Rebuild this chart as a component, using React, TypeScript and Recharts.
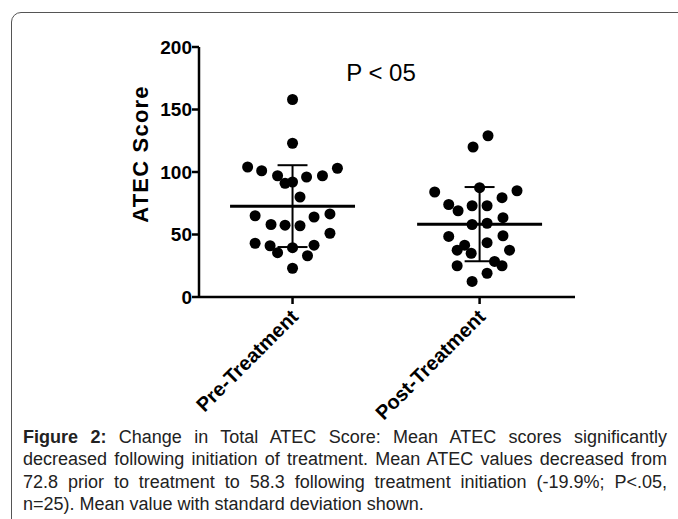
import { ScatterChart, Scatter, XAxis, YAxis, ReferenceLine } from 'recharts';

// ─── Data ────────────────────────────────────────────────────────────────────

const categories = ['Pre-Treatment', 'Post-Treatment'];
const yTicks = [0, 50, 100, 150, 200];

// ATEC score per subject, and the horizontal scatter offset of each dot
const preScores = [
  158, 123, 104, 101, 97, 91, 92, 96, 97, 103, 80, 65, 58, 57.5, 57, 64, 66.5, 51, 43, 41, 35.5,
  39.5, 41.5, 33, 23,
];
const preJitter = [
  0, 0, -0.24, -0.165, -0.08, -0.04, 0, 0.075, 0.16, 0.24, 0.04, -0.2, -0.115, -0.04, 0.04, 0.115,
  0.2, 0.2, -0.2, -0.12, -0.08, 0, 0.115, 0.08, 0,
];
const postScores = [
  129, 120, 84, 87.5, 85, 74, 69, 73, 73, 79.5, 63.5, 58, 59, 48.5, 49, 43.5, 41.5, 37.5, 35, 37.5,
  25, 28.5, 25, 19, 12.5,
];
const postJitter = [
  0.045, -0.035, -0.24, 0, 0.2, -0.165, -0.115, -0.04, 0.04, 0.12, 0.125, -0.04, 0.04, -0.165,
  0.125, 0.04, -0.08, -0.12, -0.045, 0.16, -0.12, 0.08, 0.12, 0.04, -0.04,
];

const pValueLabel = 'P < 05';
const yAxisTitle = 'ATEC Score';
const captionLead = 'Figure 2:';
const captionBody =
  ' Change in Total ATEC Score: Mean ATEC scores significantly decreased following initiation of treatment. Mean ATEC values decreased from 72.8 prior to treatment to 58.3 following treatment initiation (-19.9%; P<.05, n=25). Mean value with standard deviation shown.';

// ─── Helpers ─────────────────────────────────────────────────────────────────

const FONT = "'Liberation Sans', Arial, Helvetica, sans-serif";

function meanSd(values: number[]) {
  const mean = values.reduce((a, b) => a + b, 0) / values.length;
  const variance = values.reduce((a, v) => a + (v - mean) ** 2, 0) / (values.length - 1);
  return { mean, sd: Math.sqrt(variance) };
}

const groups = [
  { center: 0.5, scores: preScores, jitter: preJitter },
  { center: 1.5, scores: postScores, jitter: postJitter },
].map((g) => ({
  ...g,
  points: g.scores.map((y, i) => ({ x: g.center + g.jitter[i], y })),
  ...meanSd(g.scores),
}));

function Dot(props: { cx?: number; cy?: number }) {
  return <circle cx={props.cx} cy={props.cy} r={5.5} fill="#000" />;
}

function CategoryTick(props: { x?: number; y?: number; payload?: { value: number } }) {
  const idx = Math.round((props.payload?.value ?? 0.5) - 0.5);
  return (
    <g transform={`translate(${props.x},${props.y})`}>
      <text
        x={7}
        y={12}
        textAnchor="end"
        transform="rotate(-45 7 12)"
        fill="#000"
        fontSize={20}
        fontWeight="bold"
        fontFamily={FONT}
      >
        {categories[idx]}
      </text>
    </g>
  );
}

function YTitle(props: { viewBox?: { x: number; y: number; width: number; height: number } }) {
  const vb = props.viewBox ?? { x: 0, y: 0, width: 0, height: 0 };
  const cx = vb.x + 40;
  const cy = vb.y + vb.height / 2 - 18;
  return (
    <text
      x={cx}
      y={cy}
      transform={`rotate(-90 ${cx} ${cy})`}
      textAnchor="middle"
      dominantBaseline="central"
      fill="#000"
      fontSize={22}
      fontWeight="bold"
      fontFamily={FONT}
      letterSpacing={1.2}
    >
      {yAxisTitle}
    </text>
  );
}

// ─── App ─────────────────────────────────────────────────────────────────────

export default function App() {
  return (
    <div
      style={{
        position: 'absolute',
        left: 0,
        top: 0,
        width: 678,
        height: 519,
        overflow: 'hidden',
        background: '#fff',
      }}
    >
      <div
        style={{
          position: 'absolute',
          left: 11,
          top: 12,
          width: 720,
          height: 600,
          border: '1px solid #555',
          borderTopLeftRadius: 10,
          boxSizing: 'border-box',
        }}
      />
      <div style={{ position: 'absolute', left: 0, top: 0 }}>
        <ScatterChart
          width={678}
          height={425}
          margin={{ top: 47, right: 103, bottom: 18, left: 100 }}
          style={{ fontFamily: FONT }}
        >
          <XAxis
            type="number"
            dataKey="x"
            domain={[0, 2.01]}
            ticks={[0.5, 1.5]}
            height={110}
            tickSize={7}
            tickMargin={2}
            axisLine={{ stroke: '#000', strokeWidth: 2.5 }}
            tickLine={{ stroke: '#000', strokeWidth: 2.5 }}
            tick={<CategoryTick />}
            interval={0}
          />
          <YAxis
            type="number"
            dataKey="y"
            domain={[0, 200]}
            ticks={yTicks}
            width={99}
            tickSize={7}
            tickMargin={0}
            axisLine={{ stroke: '#000', strokeWidth: 2.5 }}
            tickLine={{ stroke: '#000', strokeWidth: 2.5 }}
            tick={{ fill: '#000', fontSize: 19, fontWeight: 'bold', fontFamily: FONT }}
            label={{ content: <YTitle /> }}
          />
          {groups.flatMap((g, gi) => [
            <ReferenceLine
              key={`mean-${gi}`}
              segment={[
                { x: g.center - 0.334, y: g.mean },
                { x: g.center + 0.334, y: g.mean },
              ]}
              stroke="#000"
              strokeWidth={3}
            />,
            <ReferenceLine
              key={`sd-${gi}`}
              segment={[
                { x: g.center, y: g.mean - g.sd },
                { x: g.center, y: g.mean + g.sd },
              ]}
              stroke="#000"
              strokeWidth={2}
            />,
            <ReferenceLine
              key={`capHi-${gi}`}
              segment={[
                { x: g.center - 0.08, y: g.mean + g.sd },
                { x: g.center + 0.08, y: g.mean + g.sd },
              ]}
              stroke="#000"
              strokeWidth={2}
            />,
            <ReferenceLine
              key={`capLo-${gi}`}
              segment={[
                { x: g.center - 0.08, y: g.mean - g.sd },
                { x: g.center + 0.08, y: g.mean - g.sd },
              ]}
              stroke="#000"
              strokeWidth={2}
            />,
          ])}
          {groups.map((g, gi) => (
            <Scatter
              key={`pts-${gi}`}
              data={g.points}
              fill="#000"
              shape={<Dot />}
              isAnimationActive={false}
            />
          ))}
          <text
            x={381}
            y={81}
            textAnchor="middle"
            fill="#000"
            fontSize={24}
            fontFamily={FONT}
          >
            {pValueLabel}
          </text>
        </ScatterChart>
      </div>
      <div
        style={{
          position: 'absolute',
          left: 23,
          top: 426,
          width: 644,
          fontFamily: FONT,
          fontSize: 18,
          lineHeight: '22.4px',
          textAlign: 'justify',
          color: '#222',
        }}
      >
        <b>{captionLead}</b>
        {captionBody}
      </div>
    </div>
  );
}
